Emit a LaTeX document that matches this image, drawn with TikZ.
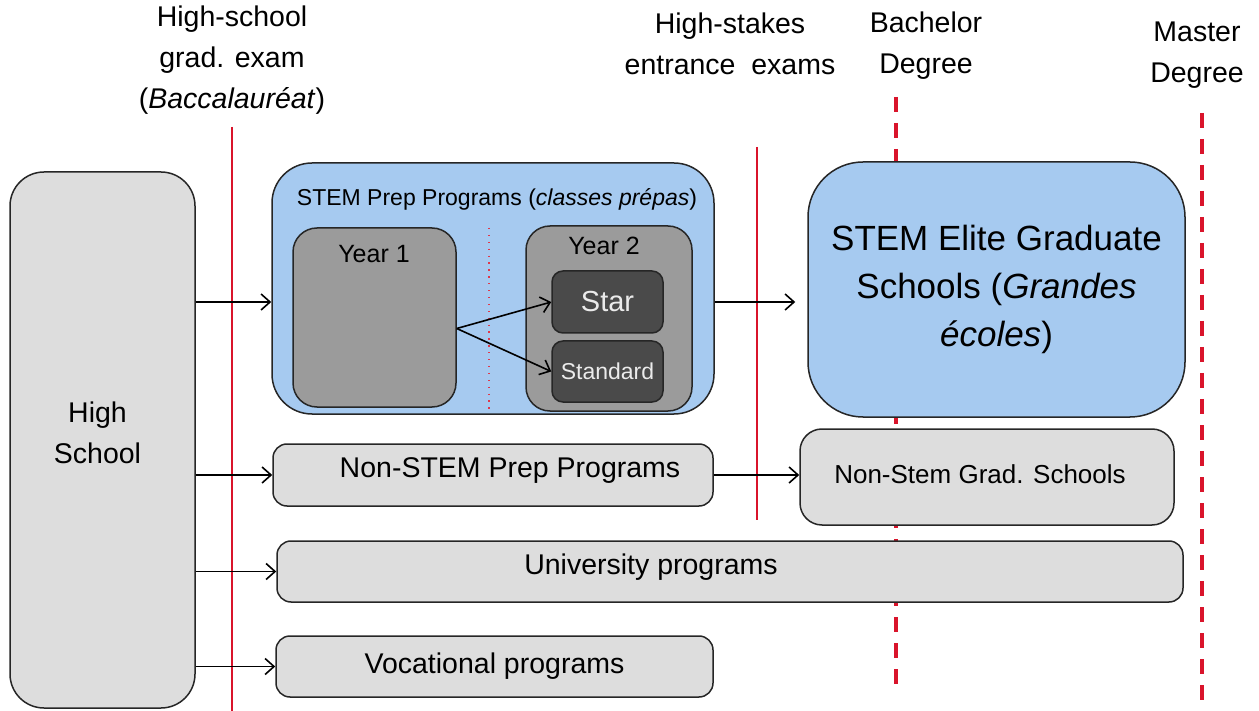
\documentclass[tikz,border=0pt]{standalone}
\usepackage{fontspec}
\setmainfont{Liberation Sans}
\usetikzlibrary{arrows.meta}
\definecolor{stemblue}{HTML}{A6CAF0}
\definecolor{boxgray}{HTML}{DDDDDD}
\definecolor{yeargray}{HTML}{9B9B9B}
\definecolor{trackgray}{HTML}{4A4A4A}
\definecolor{examred}{HTML}{D9142B}

\begin{document}
\begin{tikzpicture}[x=1pt, y=-1pt]
        \tikzstyle{box} = [draw=black!85, line width=1.5pt, rounded corners=14pt, fill=boxgray, inner sep=0pt, align=center, font=\fontsize{28.5}{41}\selectfont];
        \tikzstyle{stem} = [box, fill=stemblue];
        \tikzstyle{year} = [box, fill=yeargray, rounded corners=24pt];
        \tikzstyle{track} = [box, fill=trackgray, text=black!8, rounded corners=11pt];
        \tikzstyle{milestone} = [align=center, font=\fontsize{28.5}{41}\selectfont];
        \tikzstyle{arr} = [line width=1.6pt, -{Straight Barb[length=9pt, width=16pt]}];
        \tikzstyle{exam} = [examred, line width=1.8pt];
        \tikzstyle{degree} = [examred, line width=4pt, dash pattern=on 15pt off 11pt];
        \useasboundingbox (0,0) rectangle (1259,711);
        % milestones on top
        \node[milestone] (bac) at (232,60) {High-school\\grad. exam\\(\textit{Baccalauréat})};
        \node[milestone] (concours) at (730,44) {High-stakes\\entrance\ \ exams};
        \node[milestone] (bachelor) at (926,46) {Bachelor\\Degree};
        \node[milestone] (master) at (1197,55) {Master\\Degree};
        \draw[exam] (232,127) -- (232,711);
        \draw[exam] (757,147) -- (757,520);
        \draw[degree] (896,97) -- (896,690);
        \draw[degree] (1202,113) -- (1202,700);
        % high school
        \node[box, minimum width=185pt, minimum height=536pt, rounded corners=34pt] (hs) at (102.5,440) {};
        \node[milestone] (hslbl) at ([xshift=-5pt, yshift=7pt]hs.center) {High\\School};
        % stem prep with the two years
        \node[stem, minimum width=442pt, minimum height=251pt, rounded corners=40pt] (prep) at (493,288.5) {};
        \node[font=\fontsize{23}{28}\selectfont] (preptitle) at (497,199) {STEM Prep Programs (\textit{classes prépas})};
        \node[year, minimum width=163pt, minimum height=179pt] (year1) at (374.5,317.5) {};
        \node[font=\fontsize{25}{30}\selectfont] (year1lbl) at (374,254) {Year 1};
        \draw[examred!85, line width=1.3pt, dash pattern=on 1.3pt off 5.6pt] (489,228) -- (489,410);
        \node[year, minimum width=166pt, minimum height=185pt] (year2) at (609,318.5) {};
        \node[font=\fontsize{25}{30}\selectfont] (year2lbl) at (604,246) {Year 2};
        \node[track, minimum width=111pt, minimum height=62pt, font=\fontsize{29}{34}\selectfont] (star) at (607.5,302) {Star};
        \node[track, minimum width=111pt, minimum height=61pt, font=\fontsize{23}{28}\selectfont] (std) at (607.5,371.5) {Standard};
        \coordinate (split) at ([yshift=-11pt]year1.east);
        \draw[arr] (split) -- (star.west);
        \draw[arr] (split) -- (std.west);
        % grad schools
        \node[stem, minimum width=377pt, minimum height=255pt, rounded corners=55pt, font=\fontsize{35}{48}\selectfont] (elite) at (996.5,289.5) {STEM Elite Graduate\\Schools (\textit{Grandes}\\\textit{écoles})};
        \node[box, minimum width=374pt, minimum height=96pt, rounded corners=22pt] (nsgrad) at (987,477) {};
        \node[font=\fontsize{26}{31}\selectfont] (nsgradlbl) at ([xshift=-7pt, yshift=3pt]nsgrad.center) {Non-Stem Grad. Schools};
        % other tracks
        \node[box, minimum width=440pt, minimum height=62pt] (nsprep) at (493,475) {};
        \node[milestone] (nspreplbl) at ([xshift=17pt, yshift=4pt]nsprep.center) {Non-STEM Prep Programs};
        \node[box, minimum width=906pt, minimum height=61pt] (univ) at (730,571.5) {};
        \node[milestone] (univlbl) at ([xshift=-79pt, yshift=4pt]univ.center) {University programs};
        \node[box, minimum width=437pt, minimum height=61pt] (voc) at (494.5,666.5) {Vocational programs};
        % flows
        \draw[arr] (hs.east |- star.west) -- (prep.west |- star.west);
        \draw[arr, shorten >=12pt] (prep.east |- star.west) -- (elite.west |- star.west);
        \draw[arr] (hs.east |- nsprep.west) -- (nsprep.west);
        \draw[arr] (nsprep.east) -- (nsgrad.west |- nsprep.east);
        \draw[arr] (hs.east |- univ.west) -- (univ.west);
        \draw[arr] (hs.east |- voc.west) -- (voc.west);
\end{tikzpicture}
\end{document}
